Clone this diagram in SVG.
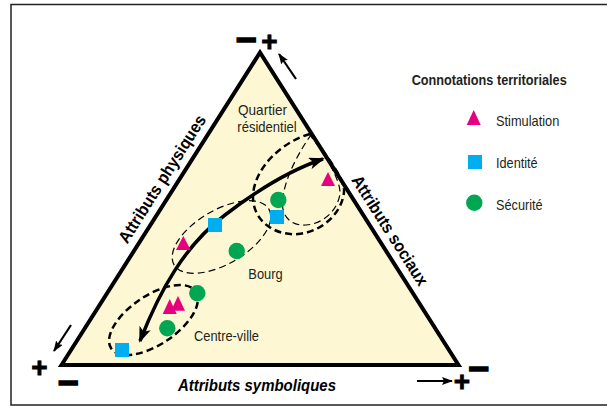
<svg xmlns="http://www.w3.org/2000/svg" width="607" height="406" viewBox="0 0 607 406">
<defs>
<style>
.lbl{font-family:"Liberation Sans Narrow","Liberation Sans",Arial,sans-serif;font-size:15px;fill:#231f20}
.axis{font-family:"Liberation Sans Narrow","Liberation Sans",Arial,sans-serif;font-size:17px;font-weight:bold;fill:#000}
.sign{font-family:"Liberation Sans","DejaVu Sans",sans-serif;font-weight:bold;fill:#000;stroke:#000;text-anchor:middle}
.minus{stroke-width:1.6}
.plus{stroke-width:0.8}
.stim{fill:#e5007d}
.iden{fill:#00aeef}
.secu{fill:#00a651}
.dthick{fill:none;stroke:#000;stroke-width:2.5;stroke-dasharray:7 4}
.dthin{fill:none;stroke:#000;stroke-width:1.2;stroke-dasharray:7 4}
.small{fill:none;stroke:#000;stroke-width:2.2}
</style>
<marker id="bigHead" viewBox="0 0 16 12" refX="14" refY="6" markerWidth="16" markerHeight="12" markerUnits="userSpaceOnUse" orient="auto-start-reverse">
<path d="M0,0 L16,6 L0,12 L4,6 Z" fill="#000"/>
</marker>
<marker id="smallHead" viewBox="0 0 11 8" refX="10" refY="4" markerWidth="11" markerHeight="8" markerUnits="userSpaceOnUse" orient="auto">
<path d="M0,0 L11,4 L0,8 L2,4 Z" fill="#000"/>
</marker>
</defs>

<g id="frame">
<path d="M607,4.5 H11 V405 H607" fill="none" stroke="#222" stroke-width="1.5"/>
</g>

<g id="triangle">
<polygon points="61.5,365 260,52.5 458.5,365" fill="#fdf8d3" stroke="#000" stroke-width="4" stroke-linejoin="miter"/>
</g>

<g id="axis-labels">
<text class="axis" x="257" y="390.5" text-anchor="middle" font-style="italic" textLength="158" lengthAdjust="spacingAndGlyphs">Attributs symboliques</text>
<text class="axis" transform="translate(167,182) rotate(-57.6)" text-anchor="middle" textLength="148" lengthAdjust="spacingAndGlyphs">Attributs physiques</text>
<text class="axis" transform="translate(385,233.5) rotate(57.6)" text-anchor="middle" textLength="127" lengthAdjust="spacingAndGlyphs">Attributs sociaux</text>
</g>

<g id="signs">
<text class="sign minus" x="246" y="52" font-size="36">−</text>
<text class="sign plus" x="269.5" y="50.5" font-size="28">+</text>
<text class="sign plus" x="39.5" y="377" font-size="28">+</text>
<text class="sign minus" x="68" y="394.5" font-size="36">−</text>
<text class="sign plus" x="462" y="391" font-size="28">+</text>
<text class="sign minus" x="478.5" y="380.8" font-size="36">−</text>
</g>

<g id="connectors">
<line class="small" x1="296" y1="79" x2="279" y2="54" marker-end="url(#smallHead)"/>
<line class="small" x1="71" y1="325" x2="54" y2="351" marker-end="url(#smallHead)"/>
<line class="small" x1="417" y1="381" x2="452" y2="381" marker-end="url(#smallHead)"/>
</g>

<g id="zones">
<ellipse id="zone-centre" class="dthick" cx="153.5" cy="320" rx="51" ry="24.5" transform="rotate(-34 153.5 320)"/>
<ellipse id="zone-bourg" class="dthin" cx="221.5" cy="237" rx="55" ry="27" transform="rotate(-30.5 221.5 237)"/>
<path id="zone-quartier-a" class="dthick" d="M310,134 C284,141 255,166 253,195 C252,221 275,236 298,234 C322,232 342,213 344,192 C345,180 330,160 310,134 Z"/>
<path id="zone-quartier-b" class="dthin" d="M311.7,134 C300,150 283,180 282.5,203 C282,220 295,226 306,225 C322,224 337,212 340,194 C341,180 325,156 311.7,134 Z"/>
</g>

<g id="trajectory">
<path d="M140,341 C160,290 185,245 225,215 C255,192 290,170 323,159" fill="none" stroke="#000" stroke-width="3.5" marker-start="url(#bigHead)" marker-end="url(#bigHead)"/>
</g>

<g id="points">
<polygon class="stim" points="328,172 321,186 335,186"/>
<polygon class="stim" points="183.3,236 176,250 190.7,250"/>
<polygon class="stim" points="178,296 171,310.7 185,310.7"/>
<polygon class="stim" points="169.7,299 162.7,314 176.7,314"/>
<rect class="iden" x="208" y="218" width="14" height="14"/>
<rect class="iden" x="270" y="210" width="14" height="14"/>
<rect class="iden" x="115" y="343" width="14" height="14"/>
<circle class="secu" cx="236.7" cy="251" r="8.2"/>
<circle class="secu" cx="278.3" cy="200" r="8.2"/>
<circle class="secu" cx="197.3" cy="293.3" r="8.2"/>
<circle class="secu" cx="167.3" cy="328.3" r="8.2"/>
</g>

<g id="zone-labels">
<text class="lbl" x="238" y="115" textLength="49" lengthAdjust="spacingAndGlyphs">Quartier</text>
<text class="lbl" x="237.3" y="131.7" textLength="59.4" lengthAdjust="spacingAndGlyphs">résidentiel</text>
<text class="lbl" x="248.3" y="279.3" textLength="34.4" lengthAdjust="spacingAndGlyphs">Bourg</text>
<text class="lbl" x="194" y="341" textLength="65" lengthAdjust="spacingAndGlyphs">Centre-ville</text>
</g>

<g id="legend">
<text class="lbl" x="411.7" y="85" font-size="14" font-weight="bold" fill="#000" textLength="155" lengthAdjust="spacingAndGlyphs">Connotations territoriales</text>
<polygon class="stim" points="473.7,110 466.7,125 480.7,125"/>
<text class="lbl" x="496" y="126" textLength="63.3" lengthAdjust="spacingAndGlyphs">Stimulation</text>
<rect class="iden" x="468" y="155" width="14" height="14"/>
<text class="lbl" x="496" y="168.3" textLength="41.7" lengthAdjust="spacingAndGlyphs">Identité</text>
<circle class="secu" cx="474.3" cy="202.7" r="8.2"/>
<text class="lbl" x="496" y="210" textLength="46.7" lengthAdjust="spacingAndGlyphs">Sécurité</text>
</g>
</svg>
